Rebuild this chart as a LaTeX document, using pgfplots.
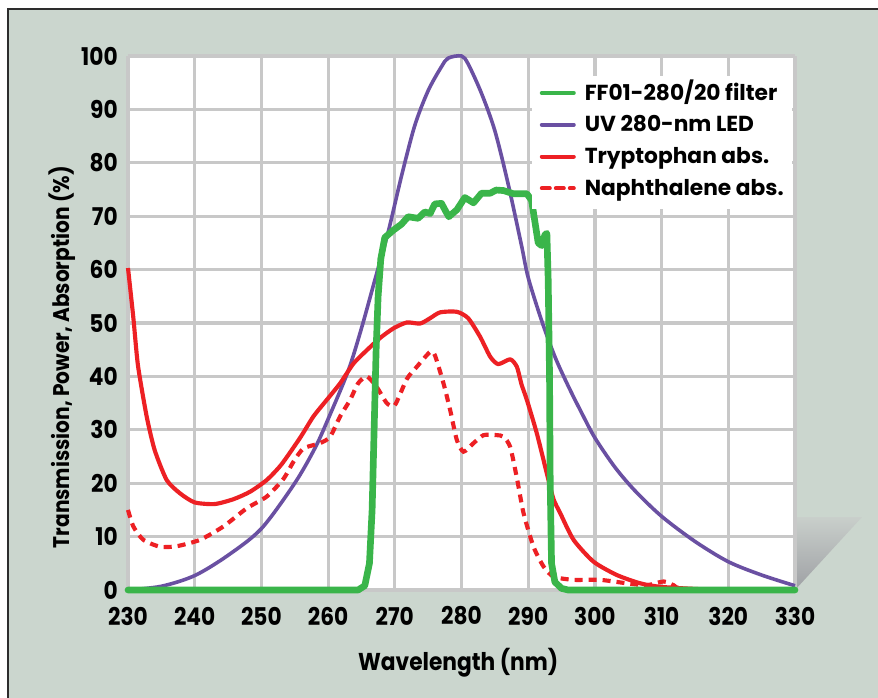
\documentclass[border=0pt]{standalone}
\usepackage{fontspec}
\setmainfont{Poppins}
\newfontfamily\narrowfont{Poppins}[FakeStretch=0.89]
\usepackage{pgfplots}
\pgfplotsset{compat=1.18}
\definecolor{bgc}{RGB}{203,214,206}
\definecolor{framec}{RGB}{45,45,45}
\definecolor{gridc}{RGB}{200,200,200}
\definecolor{grn}{RGB}{58,181,74}
\definecolor{purp}{RGB}{106,80,162}
\definecolor{rd}{RGB}{237,32,36}
\begin{document}
\begin{tikzpicture}
  % 1 px of the reference = 0.75pt, origin at the lower left corner of the plot area
  \useasboundingbox (-96pt,-80.25pt) rectangle (562.5pt,442.5pt);
  \fill[bgc] (-90pt,-81pt) rectangle (563pt,435.75pt);
  \draw[framec, line width=1.9pt] (-90pt,-81pt) -- (-90pt,435.75pt) -- (563pt,435.75pt);
  \shade[top color={rgb,255:red,201;green,207;blue,203}, bottom color={rgb,255:red,158;green,160;blue,164}]
    (500.25pt,54.75pt) -- (550.5pt,54.75pt) -- (500.25pt,0pt) -- cycle;
  \begin{axis}[
      at={(0pt,0pt)}, anchor=south west,
      scale only axis, width=500.25pt, height=400.5pt,
      xmin=230, xmax=330, ymin=0, ymax=100,
      xtick={230,240,...,330}, ytick={0,10,...,100},
      grid=major, major grid style={draw=gridc, line width=2.4pt},
      axis line style={draw=none}, major tick length=0pt,
      axis background/.style={fill=white},
      clip=false,
      ticklabel style={font=\narrowfont\fontsize{18.3}{20}\selectfont\bfseries,
                       /pgf/number format/assume math mode=true},
      xticklabel style={anchor=center, yshift=-19.5pt},
      yticklabel style={anchor=east, inner sep=0pt, xshift=-7.5pt},
      xlabel={Wavelength (nm)},
      ylabel={Transmission, Power, Absorption (\%)},
      xlabel style={font=\narrowfont\fontsize{18.3}{20}\selectfont\bfseries,
                    at={(axis description cs:0.495,-0.136)}, anchor=center},
      ylabel style={font=\narrowfont\fontsize{17}{20}\selectfont\bfseries,
                    at={(axis description cs:-0.099,0.436)}, anchor=center},
      legend style={at={(axis description cs:0.9955,0.963)}, anchor=north east,
                    draw=none, fill=white,
                    font=\fontsize{16.3}{18}\selectfont\bfseries,
                    inner xsep=6pt, inner ysep=6pt,
                    row sep=7.85pt, column sep=6.75pt,
                    nodes={inner sep=0pt, text height=12pt, text depth=4pt},
                    cells={anchor=west}},
      legend image code/.code={\draw[#1, line width=3pt, line cap=round] (0pt,1.3pt) -- (24pt,1.3pt);},
    ]
    \addlegendimage{grn}
    \addlegendentry{FF01-280/20 filter}
    \addlegendimage{purp}
    \addlegendentry{UV 280-nm LED}
    \addlegendimage{rd}
    \addlegendentry{Tryptophan abs.}
    \addlegendimage{rd, dash pattern=on 6pt off 4.5pt}
    \addlegendentry{Naphthalene abs.}

    % UV 280-nm LED
    \addplot[purp, line width=2.7pt, smooth, tension=0.5, forget plot] coordinates {
      (230,0) (235,0.7) (240,2.7) (245,6.5) (250,11.5) (255,20) (258,26.5)
      (260,32) (263,41) (265,49) (267,58) (269,67) (271,77.5) (273,87)
      (275,93.5) (277,98) (278,99.6) (280,100) (281,98.5) (283,93) (285,86)
      (287,76) (289,64.5) (290,58.5) (292,50.5) (294,43.7) (296,38.2)
      (298,33.2) (300,28.5) (303,23) (306,18.6) (310,13.8) (315,9.1)
      (320,5.3) (325,2.8) (330,0.8)};

    % Tryptophan absorption
    \addplot[rd, line width=3.1pt, smooth, tension=0.4, line join=round, forget plot] coordinates {
      (230,60.3) (230.8,51) (231.5,42) (232.8,32.5) (234,26.2) (235.8,20.6)
      (237.8,18.1) (240,16.4) (243,16.1) (245.8,17) (248.3,18.4) (250.8,20.6)
      (253,23.5) (255.8,28.5) (257.8,32.5) (259.8,35.6) (261.8,38.7)
      (263.8,42.4) (265.8,44.9) (267.8,47.2) (269.8,49) (271.8,50.1)
      (273.8,49.9) (275.3,50.9) (276.8,52) (279.3,52.1) (281,50.9)
      (282.8,47.4) (284.3,43.7) (285.5,42.3) (287.3,43.2) (288.3,41.8)
      (289,38.5) (289.8,35.6) (291.3,29.3) (292.8,21.8) (293.8,17)
      (294.8,14.4) (296.8,9.4) (299.8,5.3) (303.3,2.8) (306.8,1.25)
      (309.8,0.6) (315,0.2) (320,0)};

    % Naphthalene absorption
    \addplot[rd, line width=3.1pt, dash pattern=on 6pt off 4.5pt, smooth, tension=0.4, forget plot] coordinates {
      (230,15) (230.8,11.9) (232.3,9.4) (234.8,8.1) (237.3,8.2) (240.8,9.4)
      (244.3,11.9) (247.8,15.3) (250.8,17.5) (253.3,20.8) (254.8,24)
      (256.3,26.5) (258.8,27.5) (260.3,28.7) (261.8,32.5) (263.3,35.6)
      (264.5,38.7) (265.8,40) (267.3,38) (268.8,35) (270,34.6) (271.8,39.5)
      (273.3,41.8) (275.3,44.6) (276,44) (277.3,38.7) (278.3,33.7)
      (279.3,28.1) (280.3,25.9) (281.8,27.5) (283.3,29) (285.3,29)
      (286.3,28.7) (287.3,26.8) (288.3,21) (289.3,14.4) (290.8,8.1)
      (292.3,4.4) (293.8,2.5) (296.8,1.9) (300.8,1.9) (304.8,1.25)
      (307.8,0.9) (310.3,1.6) (311.8,0.9) (313.8,0.2) (330,0.1)};

    % FF01-280/20 filter
    \addplot[grn, line width=5pt, line join=round, line cap=round, forget plot] coordinates {
      (230,0) (264.5,0) (265.5,0.8) (266.2,5) (266.6,15) (266.9,30)
      (267.2,45) (267.5,55) (267.9,62) (268.5,66) (269.8,67.4) (271,68.5)
      (272,69.9) (273.5,69.6) (274.5,70.8) (275.3,70.5) (276,72.3) (277,72.4)
      (277.6,71) (278.1,69.9) (279.3,71.2) (280.5,73.5) (281.8,72.5) (283,74.3)
      (284.3,74.3) (285.2,74.9) (286.3,74.8) (287.8,74.2) (289.8,74.2)
      (290.5,73) (291,69) (291.5,65) (292,64.5) (292.5,66.5) (292.8,66.8)
      (293,58) (293.2,40) (293.3,20) (293.5,5) (294,1.5) (295,0.3) (296,0)
      (330,0)};
  \end{axis}
\end{tikzpicture}
\end{document}
